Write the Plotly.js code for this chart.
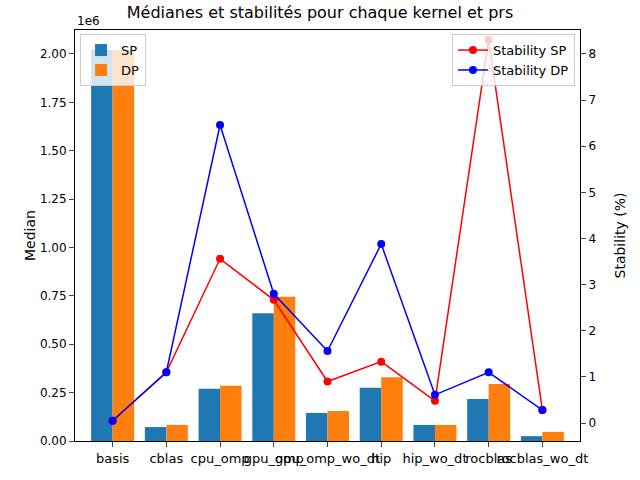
<!DOCTYPE html>
<html><head><script src="https://cdn.plot.ly/plotly-3.0.1.min.js"></script></head>
<body style="margin:0"><div id="c" style="width:640px;height:480px"></div>
<script>
const cats=["basis","cblas","cpu_omp","gpu_omp","gpu_omp_wo_dt","hip","hip_wo_dt","rocblas","rocblas_wo_dt"];
const medSP=[2020000,72000,270000,660000,145000,275000,83000,217000,25000];
const medDP=[2020000,83000,285000,745000,155000,330000,83000,295000,47000];
const stabSP=[0.05,1.1,3.56,2.67,0.9,1.33,0.48,8.31,0.28];
const stabDP=[0.05,1.1,6.46,2.8,1.56,3.88,0.61,1.1,0.28];
const idx=cats.map((_,i)=>i);
const lt=[0,0.25,0.5,0.75,1,1.25,1.5,1.75,2];
const data=[
{type:"bar",x:idx.map(i=>i-0.2),y:medSP,width:0.4,name:"SP",marker:{color:"#1f77b4"},legend:"legend"},
{type:"bar",x:idx.map(i=>i+0.2),y:medDP,width:0.4,name:"DP",marker:{color:"#ff7f0e"},legend:"legend"},
{type:"scatter",mode:"lines+markers",x:idx,y:stabSP,yaxis:"y2",name:"Stability SP",line:{color:"red",width:1.5},marker:{color:"red",size:8},legend:"legend2"},
{type:"scatter",mode:"lines+markers",x:idx,y:stabDP,yaxis:"y2",name:"Stability DP",line:{color:"blue",width:1.5},marker:{color:"blue",size:8},legend:"legend2"}
];
const layout={width:640,height:480,margin:{l:75,r:60,t:30,b:39},showlegend:true,
font:{family:"DejaVu Sans",size:12,color:"#000"},plot_bgcolor:"#fff",paper_bgcolor:"#fff",
title:{text:"Médianes et stabilités pour chaque kernel et prs",x:0.5,y:0.985,yanchor:"top",font:{size:16}},
xaxis:{range:[-0.7,8.7],tickvals:idx,ticktext:cats,tickangle:0,automargin:false,ticks:"outside",showline:true,mirror:true,linecolor:"#000",showgrid:false,zeroline:false,tickfont:{size:13}},
yaxis:{range:[0,2124000],automargin:false,tickvals:lt.map(v=>v*1e6),ticktext:lt.map(v=>v.toFixed(2)),ticks:"outside",showline:true,linecolor:"#000",showgrid:false,zeroline:false,title:{text:"Median"}},
yaxis2:{overlaying:"y",side:"right",automargin:false,range:[-0.39,8.52],tickvals:[0,1,2,3,4,5,6,7,8],ticks:"outside",showline:true,linecolor:"#000",showgrid:false,zeroline:false,title:{text:"Stability (%)"}},
legend:{x:0.01,y:0.99,xanchor:"left",yanchor:"top",bgcolor:"rgba(255,255,255,0.8)",bordercolor:"#ccc",borderwidth:1,font:{size:13}},
legend2:{x:0.99,y:0.99,xanchor:"right",yanchor:"top",bgcolor:"rgba(255,255,255,0.8)",bordercolor:"#ccc",borderwidth:1,font:{size:13}},
annotations:[{text:"1e6",xref:"paper",yref:"paper",x:0,y:1,xanchor:"left",yanchor:"bottom",showarrow:false,font:{size:12}}]
};
Plotly.newPlot("c",data,layout,{displayModeBar:false});
</script></body></html>
